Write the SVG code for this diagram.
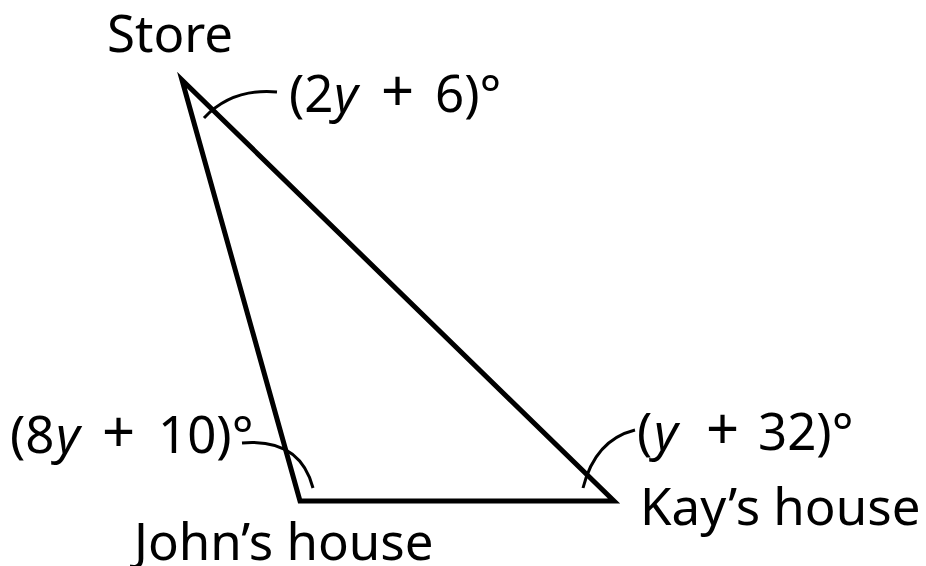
<svg xmlns="http://www.w3.org/2000/svg" width="926" height="566" viewBox="0 0 926 566">
<style>
text{font-family:"Noto Sans","Open Sans","Liberation Sans",sans-serif;font-size:51px;fill:#000}
.i{font-style:italic}
.p{font-size:58px}
.tri{fill:none;stroke:#000;stroke-width:5;stroke-linejoin:miter}
.arc{fill:none;stroke:#000;stroke-width:3}
</style>
<rect width="926" height="566" fill="#fff"/>
<g id="connectors">
<polygon class="tri" points="182,80 300,501 614,501"/>
<path class="arc" d="M204,118 Q232,88 277,92"/>
<path class="arc" d="M242,443 Q300,438 313,488"/>
<path class="arc" d="M635,430 Q595,440 583,488"/>
</g>
<g id="store"><text x="107" y="52">Store</text></g>
<g id="john"><text x="134" y="560">John’s house</text></g>
<g id="kay"><text x="640" y="525">Kay’s house</text></g>
<g id="angleStore"><text y="112"><tspan x="289">(2</tspan><tspan class="i" x="334">y</tspan><tspan class="p" x="381">+</tspan><tspan x="435">6)°</tspan></text></g>
<g id="angleJohn"><text y="453"><tspan x="10">(8</tspan><tspan class="i" x="56">y</tspan><tspan class="p" x="102">+</tspan><tspan x="158">10)°</tspan></text></g>
<g id="angleKay"><text y="450"><tspan x="637">(</tspan><tspan class="i" x="654">y</tspan><tspan class="p" x="706">+</tspan><tspan x="758">32)°</tspan></text></g>
</svg>
